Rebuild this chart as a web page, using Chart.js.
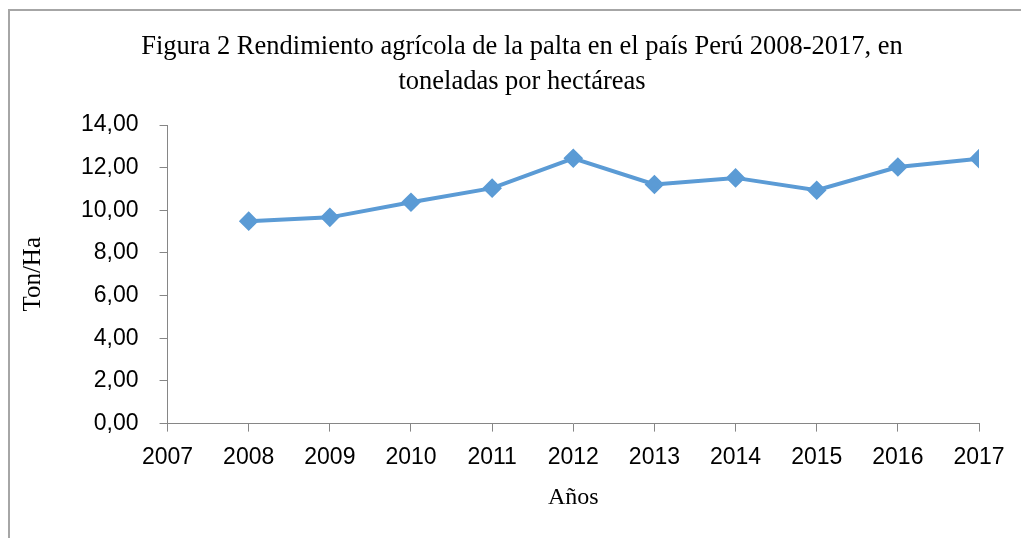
<!DOCTYPE html>
<html>
<head>
<meta charset="utf-8">
<script src="https://cdn.jsdelivr.net/npm/chart.js@4.4.1/dist/chart.umd.min.js"></script>
<style>
  html, body { margin: 0; padding: 0; background: #fff; overflow: hidden; }
  #marco { position: absolute; left: 8px; top: 9px; width: 1100px; height: 600px;
           border-top: 2px solid #a6a6a6; border-left: 2px solid #a6a6a6; }
  #grafico { position: absolute; left: 0; top: 0; }
</style>
</head>
<body>
<div id="marco"></div>
<canvas id="grafico" width="1021" height="538"></canvas>
<script>
// datos
const anios = [2008, 2009, 2010, 2011, 2012, 2013, 2014, 2015, 2016, 2017];
const rendimiento = [9.49, 9.67, 10.38, 11.04, 12.44, 11.21, 11.52, 10.94, 12.03, 12.42];
const tituloLineas = ['Figura 2 Rendimiento agrícola de la palta en el país Perú 2008-2017, en', 'toneladas por hectáreas'];

// titulo dibujado a mano para centrarlo como en el original
const tituloCentrado = {
    id: 'tituloCentrado',
    afterDraw(chart) {
        const c = chart.ctx;
        c.save();
        c.fillStyle = '#000';
        c.font = '26.5px "Liberation Serif", serif';
        c.textAlign = 'center';
        c.textBaseline = 'middle';
        tituloLineas.forEach((t, i) => c.fillText(t, 522, 47 + i * 35));
        c.restore();
    }
};

document.addEventListener('DOMContentLoaded', function(){
    const ctx = document.getElementById('grafico');
    const gris = '#868686';
    new Chart(ctx, {
        type: 'line',
        data: {
            datasets: [{
                label: 'Ton/Ha',
                data: anios.map((a, i) => ({ x: a, y: rendimiento[i] })),
                borderColor: '#5B9BD5',
                backgroundColor: '#5B9BD5',
                borderWidth: 4,
                pointStyle: 'rectRot',
                pointRadius: 7,
                pointBackgroundColor: '#5B9BD5',
                pointBorderColor: '#5B9BD5',
                tension: 0
            }]
        },
        plugins: [tituloCentrado],
        options: {
            responsive: false,
            animation: false,
            layout: { padding: { left: 0, right: 42, top: 125, bottom: 0 } },
            plugins: {
                legend: { display: false },
                tooltip: { enabled: false },
                title: { display: false }
            },
            scales: {
                x: {
                    type: 'linear',
                    min: 2007,
                    max: 2017,
                    border: { color: gris, width: 1 },
                    grid: { drawOnChartArea: false, drawTicks: true, tickLength: 8, color: gris },
                    ticks: {
                        stepSize: 1,
                        color: '#000',
                        padding: 12,
                        maxRotation: 0,
                        font: { family: '"Liberation Sans", sans-serif', size: 23 },
                        callback: v => String(v)
                    },
                    title: {
                        display: true,
                        text: 'Años',
                        color: '#000',
                        font: { family: '"Liberation Serif", serif', size: 24, lineHeight: 1.2 },
                        padding: { top: 0, bottom: 26 }
                    }
                },
                y: {
                    min: 0,
                    max: 14,
                    border: { color: gris, width: 1 },
                    grid: { drawOnChartArea: false, drawTicks: true, tickLength: 8, color: gris },
                    ticks: {
                        stepSize: 2,
                        color: '#000',
                        padding: 21,
                        font: { family: '"Liberation Sans", sans-serif', size: 23 },
                        callback: v => v.toFixed(2).replace('.', ',')
                    },
                    title: {
                        display: true,
                        text: 'Ton/Ha',
                        color: '#000',
                        font: { family: '"Liberation Serif", serif', size: 25, lineHeight: 1.2 },
                        padding: { top: 18, bottom: 12 }
                    }
                }
            }
        }
    });
});
</script>
</body>
</html>
